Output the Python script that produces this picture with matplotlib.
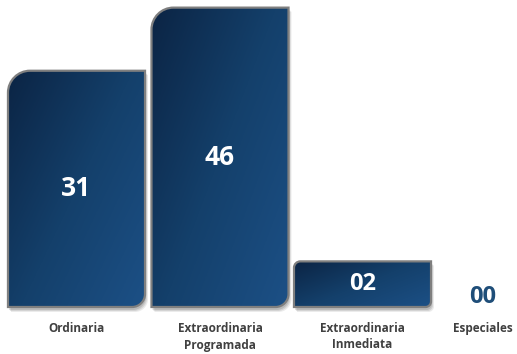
import numpy as np
import matplotlib
matplotlib.use("Agg")
import matplotlib.pyplot as plt
from matplotlib.path import Path
from matplotlib.patches import PathPatch
from matplotlib.colors import LinearSegmentedColormap

# data
categories = ["Ordinaria", "Extraordinaria\nProgramada", "Extraordinaria\nInmediata", "Especiales"]
values = [31, 46, 2, 0]
value_labels = ["31", "46", "02", "00"]

W, H = 517, 354
XPOS = [0, 1, 1.993, 2.833]   # layout: the last category sits closer
POW = 0.6                     # bar heights are compressed in the original
PX_PER_UNIT = 30.1

plt.rcParams["font.family"] = ["Open Sans", "DejaVu Sans"]

fig = plt.figure(figsize=(W / 100, H / 100), dpi=100)
base = 47
ax = fig.add_axes([0, base / H, 1, (H - base) / H])
ax.set_yscale("function", functions=(lambda v: np.power(np.clip(v, 0, None), POW),
                                     lambda v: np.power(np.clip(v, 0, None), 1 / POW)))
ax.set_xlim(-76.5 / 143.5, (W - 76.5) / 143.5)
ax.set_ylim(0, ((H - base) / PX_PER_UNIT) ** (1 / POW))
ax.axis("off")
bars = ax.bar(XPOS, values, width=0.955, color="none", edgecolor="none")

# overlay in pixel coords for the styled bars
ov = fig.add_axes([0, 0, 1, 1], zorder=2)
ov.axis("off")
ov.patch.set_alpha(0)

fig.canvas.draw()
cmap = LinearSegmentedColormap.from_list("navy", ["#0b2444", "#14406b", "#1c5086"])


def bar_path(x0, y0, x1, y1, rtl, rbr):
    k = 0.5523
    verts = [
        (x0, y0), (x1 - rbr, y0),
        (x1 - rbr + k * rbr, y0), (x1, y0 + rbr - k * rbr), (x1, y0 + rbr),
        (x1, y1), (x0 + rtl, y1),
        (x0 + rtl - k * rtl, y1), (x0, y1 - rtl + k * rtl), (x0, y1 - rtl),
        (x0, y0),
    ]
    codes = [Path.MOVETO, Path.LINETO,
             Path.CURVE4, Path.CURVE4, Path.CURVE4,
             Path.LINETO, Path.LINETO,
             Path.CURVE4, Path.CURVE4, Path.CURVE4,
             Path.CLOSEPOLY]
    return Path(verts, codes)


for b, v, lab in zip(bars, values, value_labels):
    bb = b.get_window_extent()
    cx = (bb.x0 + bb.x1) / 2
    if v <= 0:
        ov.text(cx, bb.y0 + 10, lab, ha="center", va="center", fontsize=17,
                fontweight="bold", color="#1f4e79")
        continue
    x0, y0, x1, y1 = bb.x0, bb.y0, bb.x1, bb.y1
    h = y1 - y0
    rtl = min(22, 0.14 * h)
    rbr = min(13, 0.12 * h)
    # soft shadow
    for i, a in enumerate([0.08, 0.10, 0.12]):
        d = 4 - i
        sp = bar_path(x0 + d - 1, y0 - d - 1, x1 + d - 1, y1 - d, rtl, rbr)
        ov.add_patch(PathPatch(sp, facecolor="black", edgecolor="none", alpha=a, zorder=1))
    p = bar_path(x0, y0, x1, y1, rtl, rbr)
    yy, xx = np.mgrid[0:1:200j, 0:1:200j]
    grad = 0.55 * xx + 0.45 * yy
    im = ov.imshow(grad, cmap=cmap, extent=(x0, x1, y0, y1), origin="upper",
                   aspect="auto", zorder=2, vmin=0, vmax=1)
    patch = PathPatch(p, facecolor="none", edgecolor="#7f7f7f", lw=1.6, zorder=3)
    ov.add_patch(patch)
    im.set_clip_path(patch)
    ov.text(cx, (y0 + y1) / 2, lab, ha="center", va="center",
            fontsize=17 if v < 10 else 19,
            fontweight="bold", color="white", zorder=4)

ov.set_xlim(0, W)
ov.set_ylim(0, H)

for x, c in zip(XPOS, categories):
    ax.annotate(c, xy=(x, 0), xycoords=("data", "axes fraction"),
                xytext=(0, -15), textcoords="offset pixels", ha="center", va="top",
                fontsize=8.5, fontweight="bold", color="#404040", linespacing=1.35)

fig.savefig("out.png", dpi=100)
